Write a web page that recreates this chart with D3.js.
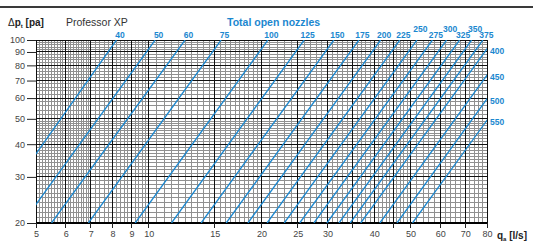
<!DOCTYPE html>
<html><head>
<meta charset="utf-8">
<script src="https://d3js.org/d3.v7.min.js"></script>
<style>
  body { margin: 0; background: #fff; }
  svg { font-family: "Liberation Sans", Arial, sans-serif; }
  .tick text { font-size: 9px; fill: #444; }
</style>
</head>
<body>
<svg id="chart" width="533" height="249"></svg>
<script>
// total open nozzles, one line each
const nozzles = [40, 50, 60, 75, 100, 125, 150, 175, 200, 225, 250, 275, 300, 325, 350, 375, 400, 450, 500, 550];
// flow qa [l/s] read where each line crosses dp = 100 Pa and dp = 20 Pa
const flowAt100 = [8.2, 10.4, 12.5, 15.6, 20.8, 26.0, 31.2, 36.4, 41.6, 46.8, 52.0, 57.2, 62.4, 67.6, 72.8, 78.0, 83.2, 93.6, 104, 114.4];
const flowAt20 = [3.7, 4.6, 5.5, 6.9, 9.2, 11.5, 13.8, 16.1, 18.4, 20.7, 23.0, 25.3, 27.6, 29.9, 32.2, 34.5, 36.8, 41.4, 46.0, 50.6];
const raisedLabels = [250, 300, 350];

const xTicks = [5, 6, 7, 8, 9, 10, 15, 20, 25, 30, 40, 50, 60, 70, 80];
const xTickMarks = [5, 6, 7, 8, 9, 10, 15, 20, 25, 30, 35, 45, 50, 60, 70, 80];
const yTicks = [20, 30, 40, 50, 60, 70, 80, 90, 100];

const blue = "#1b87cf";
const svg = d3.select("#chart");
const pLeft = 36, pRight = 487, pTop = 40, pBottom = 223;

const x = d3.scaleLog().domain([5, 80]).range([pLeft, pRight]);
const y = d3.scaleLog().domain([20, 100]).range([pBottom, pTop]);

// dark rule at the very top
svg.append("rect").attr("x", 0).attr("y", 6).attr("width", 533).attr("height", 2).attr("fill", "#3a3a3a");

// grid
let minorX = d3.range(5, 7, 0.1).concat(d3.range(7, 10, 0.2), d3.range(10, 20, 0.5), d3.range(20, 50, 1), d3.range(50, 80.1, 2));
let minorY = d3.range(20, 50, 1).concat(d3.range(50, 100.1, 2));
const majorX = [5, 6, 7, 8, 9, 10, 15, 20, 25, 30, 35, 40, 45, 50, 60, 70, 80];
const majorY = [20, 30, 40, 50, 60, 70, 80, 90, 100];

let grid = svg.append("g").attr("shape-rendering", "crispEdges");
grid.selectAll("line.vminor").data(minorX).join("line")
  .attr("class", "vminor")
  .attr("x1", d => x(d)).attr("x2", d => x(d))
  .attr("y1", pTop).attr("y2", pBottom)
  .attr("stroke", "#909090").attr("stroke-width", 1);
grid.selectAll("line.hminor").data(minorY).join("line")
  .attr("class", "hminor")
  .attr("y1", d => y(d)).attr("y2", d => y(d))
  .attr("x1", pLeft).attr("x2", pRight)
  .attr("stroke", "#909090").attr("stroke-width", 1);
grid.selectAll("line.vmajor").data(majorX).join("line")
  .attr("class", "vmajor")
  .attr("x1", d => x(d)).attr("x2", d => x(d))
  .attr("y1", pTop).attr("y2", pBottom)
  .attr("stroke", "#111").attr("stroke-width", 1);
grid.selectAll("line.hmajor").data(majorY).join("line")
  .attr("class", "hmajor")
  .attr("y1", d => y(d)).attr("y2", d => y(d))
  .attr("x1", pLeft).attr("x2", pRight)
  .attr("stroke", "#111").attr("stroke-width", 1);

// axes
let yAxis = svg.append("g").attr("transform", `translate(${pLeft},0)`)
  .call(d3.axisLeft(y).tickValues(yTicks).tickFormat(d3.format("d")).tickSize(9).tickPadding(2));
yAxis.select(".domain").attr("stroke", "#111");
yAxis.selectAll(".tick line").attr("stroke", "#222");

let xAxis = svg.append("g").attr("transform", `translate(0,${pBottom})`)
  .call(d3.axisBottom(x).tickValues(xTicks).tickFormat(d3.format("d")).tickSize(0).tickPadding(8));
xAxis.select(".domain").remove();
svg.append("line").attr("x1", pLeft).attr("x2", pRight).attr("y1", pBottom).attr("y2", pBottom)
  .attr("stroke", "#000").attr("stroke-width", 2);
svg.selectAll("line.xtick").data(xTickMarks).join("line")
  .attr("class", "xtick")
  .attr("x1", d => x(d)).attr("x2", d => x(d))
  .attr("y1", pBottom).attr("y2", pBottom + 5)
  .attr("stroke", "#222").attr("stroke-width", 1).attr("shape-rendering", "crispEdges");

// nozzle lines
svg.append("clipPath").attr("id", "plot")
  .append("rect").attr("x", pLeft).attr("y", pTop).attr("width", pRight - pLeft).attr("height", pBottom - pTop);

const lines = nozzles.map((n, i) => ({ n: n, q100: flowAt100[i], q20: flowAt20[i] }));
svg.append("g").attr("clip-path", "url(#plot)")
  .selectAll("line.nozzle").data(lines).join("line")
  .attr("class", "nozzle")
  .attr("x1", d => x(d.q20)).attr("y1", y(20))
  .attr("x2", d => x(d.q100)).attr("y2", y(100))
  .attr("stroke", blue).attr("stroke-width", 1.3);

// labels at the top
svg.selectAll("text.toplbl").data(lines.filter(d => d.q100 <= 80)).join("text")
  .attr("class", "toplbl")
  .attr("x", d => x(d.q100) + 3.5)
  .attr("y", d => raisedLabels.includes(d.n) ? 31.5 : 37.5)
  .attr("text-anchor", "middle")
  .attr("font-size", "8.5px").attr("font-weight", "bold").attr("fill", blue)
  .text(d => d.n);

// labels on the right edge
function dpAtRight(d) {
  const t = (Math.log(80) - Math.log(d.q20)) / (Math.log(d.q100) - Math.log(d.q20));
  return 20 * Math.pow(5, t);
}
svg.selectAll("text.rightlbl").data(lines.filter(d => d.q100 > 80)).join("text")
  .attr("class", "rightlbl")
  .attr("x", 490)
  .attr("y", d => y(dpAtRight(d)) + 5)
  .attr("font-size", "8.5px").attr("font-weight", "bold").attr("fill", blue)
  .text(d => d.n);

// titles
let yt = svg.append("text").attr("x", 8).attr("y", 26).attr("font-size", "10px").attr("fill", "#222");
yt.append("tspan").text("\u0394");
yt.append("tspan").attr("font-weight", "bold").text("p");
yt.append("tspan").attr("font-size", "6px").attr("dy", 2).attr("font-weight", "bold").text("t");
yt.append("tspan").attr("dy", -2).attr("font-weight", "bold").text(" [pa]");

svg.append("text").attr("x", 66).attr("y", 26).attr("font-size", "10.5px").attr("fill", "#333")
  .text("Professor XP");

svg.append("text").attr("x", 227).attr("y", 26).attr("font-size", "10.5px")
  .attr("font-weight", "bold").attr("fill", blue)
  .text("Total open nozzles");

let xt = svg.append("text").attr("x", 497).attr("y", 239).attr("font-size", "10px")
  .attr("font-weight", "bold").attr("fill", "#222");
xt.append("tspan").text("q");
xt.append("tspan").attr("font-size", "6px").attr("dy", 2).text("a");
xt.append("tspan").attr("dy", -2).text(" [l/s]");
</script>
</body>
</html>
